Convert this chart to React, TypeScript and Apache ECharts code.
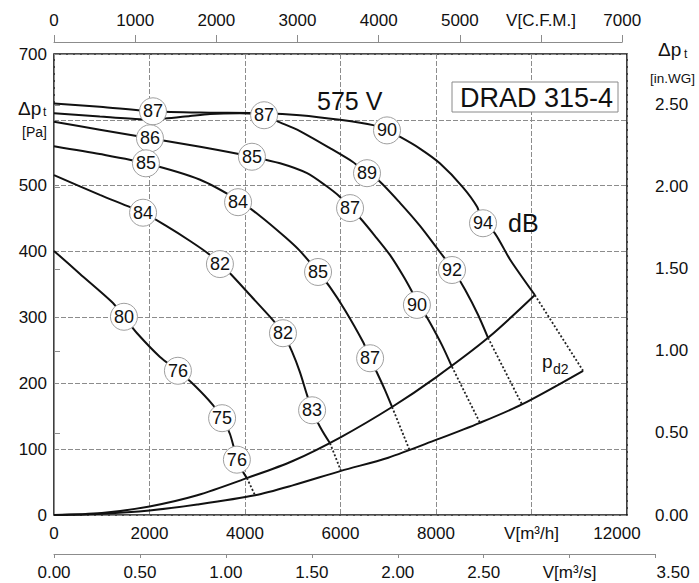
import React, { useEffect, useRef } from 'react';
import * as echarts from 'echarts';

const FONT = '"Liberation Sans", Arial, Helvetica, sans-serif';
const INK = '#111';

// Fan curves, x = airflow [m³/h], y = total pressure [Pa]
const curve1 = [[0, 625], [960, 620], [2070, 613], [3060, 611], [4400, 610], [5150, 607], [5990, 600], [6680, 592], [6970, 584], [7250, 574], [7670, 556], [8080, 534], [8560, 498], [8860, 468], [8980, 445], [9240, 427], [9550, 388], [10070, 334]];
const curve2 = [[0, 610], [960, 605], [1800, 601], [2325, 602], [2850, 606], [3270, 609], [3895, 610], [4400, 607], [4670, 598], [5150, 583], [5780, 557], [6260, 536], [6555, 519], [6785, 509], [7245, 474], [7665, 439], [8085, 399], [8335, 375], [8610, 342], [8880, 304], [9090, 269]];
const curve3 = [[0, 597], [960, 585], [2010, 572], [3060, 559], [4145, 544], [4735, 534], [5300, 519], [5675, 501], [5990, 483], [6200, 466], [6410, 451], [6720, 424], [7035, 395], [7330, 361], [7600, 326], [7875, 292], [8125, 258], [8335, 225]];
const curve4 = [[0, 560], [960, 548], [1925, 534], [3060, 509], [3855, 478], [4315, 454], [4840, 422], [5150, 401], [5530, 369], [5780, 346], [6095, 311], [6470, 263], [6620, 238], [6765, 216], [6930, 190], [7080, 164]];
const curve5 = [[0, 516], [960, 486], [1865, 459], [2325, 440], [2850, 416], [3265, 395], [3475, 381], [3685, 367], [4105, 334], [4585, 296], [4795, 276], [4985, 248], [5150, 217], [5300, 182], [5405, 159], [5570, 134], [5780, 109]];
const curve6 = [[0, 401], [545, 366], [1235, 322], [1465, 301], [1740, 276], [2220, 240], [2595, 219], [2955, 196], [3330, 167], [3520, 147], [3685, 123], [3810, 91], [3915, 71], [4040, 56]];
const fanCurves = [curve1, curve2, curve3, curve4, curve5, curve6];

// Limit curve through the curve ends, and dynamic pressure p_d2
const limitCurve = [[0, 0], [1000, 3], [2000, 13], [3000, 30], [4040, 56], [5000, 82], [6000, 118], [7080, 164], [8000, 209], [9090, 269], [10070, 334]];
const pd2Curve = [[0, 0], [1000, 2], [2000, 7], [3000, 16], [4210, 30], [5000, 45], [6010, 67], [7000, 87], [8000, 114], [8920, 140], [9800, 168], [11080, 219]];
const dottedLinks = [
  [[4040, 56], [4210, 30]],
  [[5780, 109], [6010, 67]],
  [[7080, 164], [7455, 97]],
  [[8335, 225], [8920, 140]],
  [[9090, 269], [9800, 168]],
  [[10070, 334], [11080, 219]],
];

// Sound level markers [m³/h, Pa, dB]
const soundPoints = [
  [2073, 613, 87], [4400, 607, 87], [6974, 584, 90], [8984, 443, 94],
  [2010, 572, 86], [4145, 544, 85], [6555, 519, 89], [8335, 372, 92],
  [1925, 534, 85], [3855, 475, 84], [6200, 466, 87], [7600, 319, 90],
  [1865, 459, 84], [3475, 381, 82], [5530, 369, 85], [6620, 238, 87],
  [4795, 276, 82], [5405, 159, 83],
  [1465, 301, 80], [2595, 219, 76], [3520, 147, 75], [3830, 84, 76],
];

const flowTicks = { min: 0, max: 12000, interval: 2000 };
const cfmTicks = { min: 0, max: 7000, interval: 1000 };
const m3sTicks = { min: 0, max: 3.5, interval: 0.5 };
const paTicks = { min: 0, max: 700, interval: 100 };
const inwgTicks = { min: 0, max: 2.5, interval: 0.5 };

const labelBase = { color: INK, fontSize: 17, fontFamily: FONT, hideOverlap: false };
const grey = '#8c8c8c';

function buildOption() {
  const lineSeries: any[] = fanCurves.map((c) => ({
    type: 'line', xAxisIndex: 0, yAxisIndex: 0, data: c, showSymbol: false, symbol: 'none',
    smooth: 0.25, lineStyle: { color: INK, width: 2 }, z: 3, silent: true,
  }));
  [limitCurve, pd2Curve].forEach((c) => lineSeries.push({
    type: 'line', xAxisIndex: 0, yAxisIndex: 0, data: c, showSymbol: false, symbol: 'none',
    smooth: 0.3, lineStyle: { color: INK, width: 2 }, z: 3, silent: true,
  }));
  dottedLinks.forEach((c) => lineSeries.push({
    type: 'line', xAxisIndex: 0, yAxisIndex: 0, data: c, showSymbol: false, symbol: 'none',
    lineStyle: { color: '#222', width: 1.8, type: [2, 2] }, z: 3, silent: true,
  }));
  lineSeries.push({
    type: 'scatter', xAxisIndex: 0, yAxisIndex: 0, data: soundPoints, symbol: 'circle', symbolSize: 27,
    itemStyle: { color: '#fff', borderColor: '#a0a0a0', borderWidth: 1, opacity: 1 },
    label: { show: true, position: 'inside', formatter: (p: any) => String(p.value[2]), color: INK, fontSize: 18, fontFamily: FONT },
    z: 6, silent: true,
  });

  const txt = (text: string, x: number, y: number, fontSize: number, extra: any = {}) => ({
    type: 'text', x, y, z: 101,
    style: { text, fontSize, fontFamily: FONT, fill: INK, align: 'left', verticalAlign: 'middle', ...extra },
  });

  return {
    animation: false,
    backgroundColor: '#fff',
    textStyle: { fontFamily: FONT },
    grid: [
      { left: 54, top: 54, width: 573, height: 461, show: true, borderColor: INK, borderWidth: 1.6, backgroundColor: 'transparent', containLabel: false },
      { left: 54, top: 553, width: 601.6, height: 1, containLabel: false },
      { left: 54, top: 41, width: 568.2, height: 1, containLabel: false },
      { left: 54, top: 104.9, width: 573, height: 410.1, containLabel: false },
    ],
    xAxis: [
      {
        gridIndex: 0, type: 'value', ...flowTicks, position: 'bottom',
        axisLine: { show: false }, axisTick: { show: false },
        splitLine: { show: true, lineStyle: { color: grey, width: 1, type: [5, 2] } },
        axisLabel: {
          ...labelBase, margin: 10,
          formatter: (v: number) => (v === 10000 ? 'V[m³/h]' : v === 12000 ? '{r|12000}' : String(v)),
          rich: { r: { color: INK, fontSize: 17, fontFamily: FONT, padding: [0, 20, 0, 0] } },
        },
      },
      {
        gridIndex: 1, type: 'value', ...m3sTicks, position: 'bottom',
        axisLine: { show: true, lineStyle: { color: grey, width: 1 } },
        axisTick: { show: true, length: 4, lineStyle: { color: grey } },
        splitLine: { show: false },
        axisLabel: {
          ...labelBase, margin: 10,
          formatter: (v: number) => (Math.abs(v - 3) < 1e-9 ? 'V[m³/s]' : Math.abs(v - 3.5) < 1e-9 ? '{r|3.50}' : v.toFixed(2)),
          rich: { r: { color: INK, fontSize: 17, fontFamily: FONT, padding: [0, 0, 0, 35] } },
        },
      },
      {
        gridIndex: 2, type: 'value', ...cfmTicks, position: 'top',
        axisLine: { show: true, lineStyle: { color: grey, width: 1 } },
        axisTick: { show: true, length: 7, lineStyle: { color: grey } },
        splitLine: { show: false },
        axisLabel: { ...labelBase, margin: 12, formatter: (v: number) => (v === 6000 ? 'V[C.F.M.]' : String(v)) },
      },
      { gridIndex: 3, type: 'value', min: 0, max: 12000, show: false },
    ],
    yAxis: [
      {
        gridIndex: 0, type: 'value', ...paTicks,
        axisLine: { show: false }, axisTick: { show: false },
        splitLine: { show: true, lineStyle: { color: grey, width: 1, type: [5, 2] } },
        axisLabel: { ...labelBase, margin: 7, formatter: (v: number) => (v === 600 ? '' : String(v)) },
      },
      { gridIndex: 1, type: 'value', show: false },
      { gridIndex: 2, type: 'value', show: false },
      {
        gridIndex: 3, type: 'value', ...inwgTicks, position: 'right', offset: 19,
        axisLine: { show: true, lineStyle: { color: grey, width: 1 } },
        axisTick: { show: true, length: 6, lineStyle: { color: grey } },
        splitLine: { show: false },
        axisLabel: { ...labelBase, margin: 9, formatter: (v: number) => v.toFixed(2) },
      },
    ],
    series: lineSeries,
    graphic: [
      { type: 'rect', z: 100, shape: { x: 452, y: 82, width: 166, height: 30 }, style: { fill: '#fff', stroke: '#8a8a8a', lineWidth: 1 } },
      txt('DRAD 315-4', 460, 98, 27),
      txt('575 V', 317, 101, 25),
      txt('dB', 508, 223, 25),
      txt('p', 542, 361, 19),
      txt('d2', 553, 369, 14),
      txt('Δp', 18, 108, 19),
      txt('t', 43, 112, 12),
      txt('[Pa]', 22, 132, 14),
      txt('Δp', 658, 49, 19),
      txt('t', 684, 54, 12),
      txt('[in.WG]', 650, 78, 13.5),
    ],
  };
}

export default function App() {
  const ref = useRef<HTMLDivElement>(null);
  useEffect(() => {
    if (!ref.current) return;
    const chart = echarts.init(ref.current, null, { renderer: 'svg' });
    chart.setOption(buildOption() as any);
    return () => chart.dispose();
  }, []);
  return (
    <div
      ref={ref}
      style={{ position: 'fixed', left: 0, top: 0, width: 699, height: 583, background: '#fff' }}
    />
  );
}
